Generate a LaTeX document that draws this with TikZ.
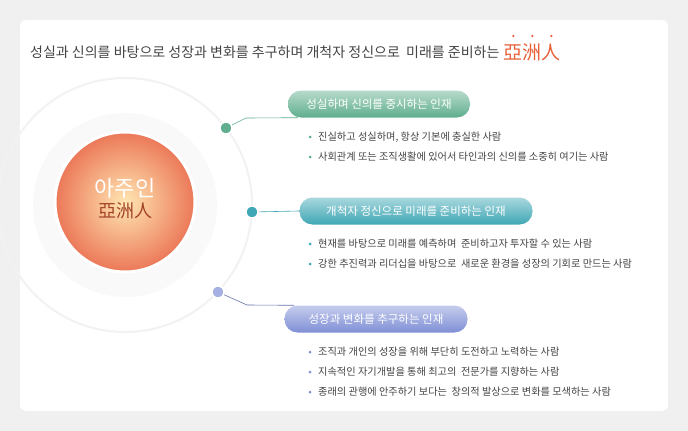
\documentclass[tikz,border=0pt]{standalone}
\usepackage{fontspec}
\setmainfont{Noto Sans CJK KR}
\usetikzlibrary{positioning}
\definecolor{grnA}{HTML}{5FAE8E}
\definecolor{tealA}{HTML}{3FA7B5}
\definecolor{lavA}{HTML}{7F8FD6}
\definecolor{orgA}{HTML}{E8603A}
\definecolor{txtA}{HTML}{444444}
\tikzset{
  pill/.style={rounded corners=13pt, minimum height=27pt, text=white, font=\fontsize{11.5}{13}\selectfont, inner xsep=14pt},
  item/.style={anchor=west, text=txtA, font=\fontsize{10.2}{12}\selectfont, inner sep=0pt},
  knob/.style={circle, draw=white, line width=1.5pt, minimum size=12pt, inner sep=0pt},
  wire/.style={line width=0.6pt}
}
\begin{document}
\begin{tikzpicture}[x=1pt,y=-1pt]
  \useasboundingbox (0,0) rectangle (688,431);
  \fill [gray!12] (0,0) rectangle (688,431);
  \fill [white, rounded corners=6pt] (20,20) rectangle (668,411);

  % title
  \node (title) [anchor=west, text=txtA, font=\fontsize{14}{16}\selectfont, inner sep=0pt] at (30,52)
    {성실과 신의를 바탕으로 성장과 변화를 추구하며 개척자 정신으로\ \ 미래를 준비하는};
  \node (han) [right=4pt of title, text=orgA, font=\fontsize{19}{20}\selectfont, inner sep=0pt] {亞洲人};
  \foreach \d in {-19,0,19}
    \fill [orgA] ([xshift=\d pt, yshift=16pt]han.center) circle (1.3);

  % halo and core
  \draw [gray!10, line width=2pt] (125,205) circle (127);
  \fill [gray!5] (125,205) circle (92);
  \shade [inner color=yellow!35!orange!30, outer color=orgA!85] (125,202) circle (70);
  \draw [white, line width=3pt] (125,202) circle (70);
  \node (core) [text=white, font=\fontsize{22}{24}\selectfont] at (125,188) {아주인};
  \node (coreh) [below=-2pt of core, text=orgA!70!black, font=\fontsize{18}{20}\selectfont] {亞洲人};

  % first
  \node (k1) [knob, fill=grnA] at (226,128) {};
  \node (p1) [pill, minimum width=182pt, top color=grnA!45, bottom color=grnA] at (379,104) {성실하며 신의를 중시하는 인재};
  \coordinate (c1) at (246,118);
  \draw [wire, grnA] (k1) -- (c1) -- ([xshift=10pt]p1.south west);
  \node (a1) [item] at (318,137) {진실하고 성실하며, 항상 기본에 충실한 사람};
  \node (a2) [item] at (318,157) {사회관계 또는 조직생활에 있어서 타인과의 신의를 소중히 여기는 사람};
  \foreach \n in {a1,a2} \fill [grnA] ([xshift=-8pt]\n.west) circle (1.5);

  % second
  \node (k2) [knob, fill=tealA] at (252,212) {};
  \node (p2) [pill, minimum width=233pt, top color=tealA!45, bottom color=tealA] at (416,211) {개척자 정신으로 미래를 준비하는 인재};
  \draw [wire, tealA] (k2) -- (p2.west);
  \node (b1) [item] at (318,244) {현재를 바탕으로 미래를 예측하며\ \ 준비하고자 투자할 수 있는 사람};
  \node (b2) [item] at (318,264) {강한 추진력과 리더십을 바탕으로\ \ 새로운 환경을 성장의 기회로 만드는 사람};
  \foreach \n in {b1,b2} \fill [tealA] ([xshift=-8pt]\n.west) circle (1.5);

  % third
  \node (k3) [knob, fill=lavA!70] at (218,292) {};
  \node (p3) [pill, minimum width=183pt, top color=lavA!45, bottom color=lavA] at (376,319) {성장과 변화를 추구하는 인재};
  \coordinate (c3) at (247,305);
  \draw [wire, lavA!80!black] (k3) -- (c3) -- ([xshift=10pt]p3.north west);
  \node (d1) [item] at (318,352) {조직과 개인의 성장을 위해 부단히 도전하고 노력하는 사람};
  \node (d2) [item] at (318,372) {지속적인 자기개발을 통해 최고의\ \ 전문가를 지향하는 사람};
  \node (d3) [item] at (318,392) {종래의 관행에 안주하기 보다는\ \ 창의적 발상으로 변화를 모색하는 사람};
  \foreach \n in {d1,d2,d3} \fill [lavA] ([xshift=-8pt]\n.west) circle (1.5);
\end{tikzpicture}
\end{document}
